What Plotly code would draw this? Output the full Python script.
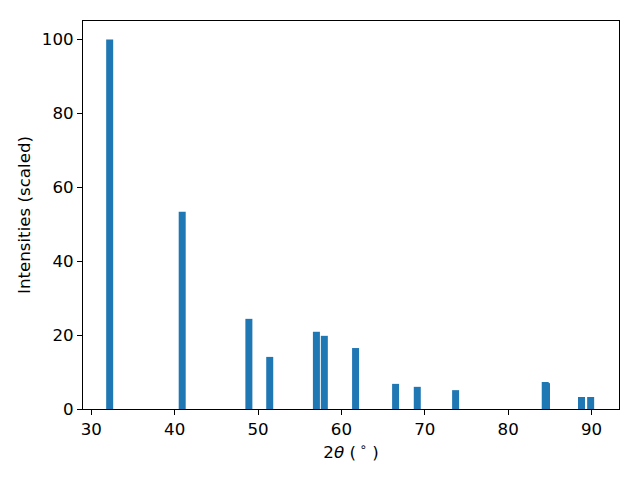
import plotly.graph_objects as go

two_theta = [32.2, 40.9, 48.9, 51.4, 57.0, 57.95, 61.7, 66.5, 69.1, 73.7, 84.45, 84.6, 88.8, 89.9]
intensity = [100.0, 53.4, 24.4, 14.1, 20.9, 19.8, 16.5, 6.8, 6.0, 5.1, 7.3, 7.0, 3.25, 3.25]
x_ticks = [30, 40, 50, 60, 70, 80, 90]
y_ticks = [0, 20, 40, 60, 80, 100]

fig = go.Figure()
fig.add_trace(go.Bar(x=two_theta, y=intensity, width=0.84,
                     marker=dict(color="#1f77b4", line=dict(width=0))))

fnt = dict(family="DejaVu Sans", size=16.67, color="black")
axis_common = dict(showline=True, linecolor="black", linewidth=1, mirror=True,
                   ticks="outside", ticklen=5, tickwidth=1, tickcolor="black",
                   showgrid=False, zeroline=False, automargin=False,
                   tickfont=fnt)

fig.update_layout(
    width=632, height=472,
    margin=dict(l=75, r=21, t=13, b=71),
    plot_bgcolor="white", paper_bgcolor="white",
    barmode="overlay", showlegend=False,
    font=fnt,
    xaxis=dict(range=[29.0, 93.3], tickvals=x_ticks,
               title=dict(text="2<i>θ</i> (<sup> ∘</sup> )", standoff=8, font=fnt), **axis_common),
    yaxis=dict(range=[0, 105], tickvals=y_ticks,
               title=dict(text="Intensities (scaled)", standoff=7, font=fnt), **axis_common),
)

fig.write_html("out.html")
